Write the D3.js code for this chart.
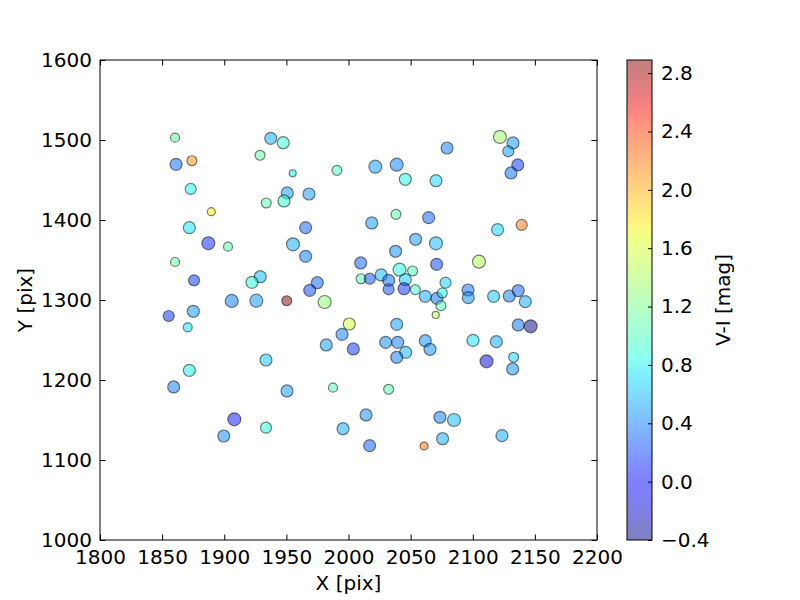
<!DOCTYPE html>
<html>
  <head>
    <meta charset="utf-8">
    <title>V-I scatter</title>
    <script src="https://d3js.org/d3.v7.min.js"></script>
    <style>
      body { margin: 0; background: #fff; }
      text { font-family: "DejaVu Sans", sans-serif; }
    </style>
  </head>
  <body>
    <script>
      // star positions [pix]
      var xs = [1860.4, 1861.2, 1874.0, 1873.0, 1889.6, 1871.9, 1887.2, 1903.0, 1860.4, 1875.7,
                1937.4, 1947.5, 1928.8, 1955.1, 1990.7, 1950.7, 1968.2, 1933.8, 1948.1, 1965.5,
                1955.3, 1965.5, 1929.0, 1922.3, 1974.9, 1968.8, 1906.0, 1925.8, 1950.3, 1980.8,
                2121.9, 2132.4, 2128.6, 2136.2, 2130.8, 2079.3, 2021.6, 2038.8, 2045.7, 2070.4,
                2038.2, 2064.5, 2018.7, 2120.0, 2139.4, 2054.0, 2070.4, 2037.9, 2009.8, 2105.0,
                2070.9, 2041.1, 2051.6, 2010.1, 2017.1, 2026.3, 2032.3, 2045.7, 2032.3, 2044.7,
                2053.8, 2061.8, 2071.2, 2075.5, 2074.4, 2078.1, 2070.2, 2096.2, 2096.4, 2116.8,
                2129.4, 2136.6, 2142.3, 1855.3, 1875.1, 1870.6, 2000.6, 1994.8, 1982.1, 2003.9,
                2038.8, 2029.9, 2039.6, 2046.0, 2038.8, 2061.8, 2065.6, 2100.2, 2119.0, 2136.6,
                2146.6, 2111.1, 2132.9, 2132.1, 1933.6, 1871.9, 1859.3, 1950.5, 1987.5, 2032.3,
                2014.1, 1995.6, 2073.6, 2084.9, 2075.7, 2123.5, 2017.0, 2060.8, 1908.1, 1933.6,
                1899.6];
      var ys = [1502.9, 1469.6, 1474.1, 1438.8, 1410.4, 1390.4, 1370.9, 1366.6, 1347.5, 1324.6,
                1502.1, 1496.6, 1480.9, 1458.4, 1462.1, 1433.8, 1432.5, 1421.3, 1423.8, 1390.4,
                1369.6, 1354.6, 1329.1, 1322.1, 1321.6, 1312.1, 1298.8, 1299.1, 1299.1, 1297.5,
                1503.8, 1496.3, 1485.9, 1468.8, 1458.8, 1490.0, 1466.6, 1469.1, 1450.9, 1449.1,
                1407.1, 1402.9, 1396.3, 1387.9, 1393.8, 1375.9, 1370.9, 1360.9, 1346.3, 1347.9,
                1344.6, 1337.9, 1336.3, 1326.6, 1326.6, 1331.3, 1324.6, 1325.4, 1313.4, 1314.1,
                1312.9, 1304.6, 1302.1, 1308.8, 1292.9, 1321.6, 1281.3, 1312.5, 1302.9, 1304.6,
                1305.0, 1311.6, 1297.9, 1280.0, 1285.9, 1265.9, 1270.0, 1257.1, 1243.8, 1238.8,
                1269.6, 1247.1, 1247.1, 1234.6, 1228.4, 1249.1, 1238.4, 1249.6, 1247.9, 1268.8,
                1267.1, 1223.4, 1228.4, 1213.8, 1225.0, 1212.1, 1191.3, 1186.3, 1190.4, 1188.4,
                1156.3, 1139.1, 1153.4, 1150.0, 1126.6, 1130.4, 1117.9, 1117.5, 1150.9, 1140.4,
                1130.0];
      // colour index V-I [mag]
      var vi = [1.10, 0.35, 2.10, 0.80, 1.75, 0.75, 0.10, 1.05, 1.10, 0.15,
                0.55, 0.90, 1.10, 0.75, 1.00, 0.50, 0.50, 1.05, 0.90, 0.30,
                0.55, 0.40, 0.60, 0.85, 0.30, 0.20, 0.40, 0.50, 2.89, 1.30,
                1.35, 0.50, 0.50, 0.15, 0.35, 0.40, 0.50, 0.40, 0.85, 0.70,
                1.05, 0.30, 0.50, 0.70, 2.20, 0.50, 0.60, 0.45, 0.30, 1.45,
                0.20, 0.85, 1.00, 1.05, 0.25, 0.60, 0.35, 0.65, 0.25, 0.15,
                0.95, 0.55, 0.35, 0.85, 1.05, 0.70, 1.45, 0.35, 0.45, 0.65,
                0.40, 0.30, 0.55, 0.15, 0.50, 0.75, 1.55, 0.40, 0.50, 0.15,
                0.50, 0.45, 0.40, 0.60, 0.40, 0.45, 0.45, 0.75, 0.55, 0.35,
                -0.40, -0.15, 0.70, 0.45, 0.65, 0.80, 0.40, 0.50, 1.05, 1.05,
                0.45, 0.55, 0.40, 0.60, 0.55, 0.55, 0.30, 2.20, 0.05, 0.85,
                0.45];
      // marker areas
      var sizes = [36, 64, 44, 54, 28, 64, 75, 36, 36, 54,
                   64, 64, 44, 22, 44, 64, 64, 44, 64, 64,
                   75, 64, 64, 64, 64, 64, 75, 75, 44, 75,
                   75, 64, 54, 64, 64, 64, 75, 75, 64, 64,
                   44, 64, 64, 64, 54, 64, 75, 64, 64, 75,
                   64, 75, 44, 44, 54, 64, 64, 64, 54, 64,
                   44, 64, 64, 44, 44, 54, 22, 64, 64, 64,
                   64, 64, 64, 54, 64, 36, 64, 64, 64, 64,
                   64, 64, 64, 64, 64, 64, 64, 64, 64, 64,
                   75, 75, 44, 64, 64, 64, 64, 64, 36, 44,
                   64, 64, 64, 75, 64, 64, 64, 28, 75, 54,
                   64];

      var xTicks = [1800, 1850, 1900, 1950, 2000, 2050, 2100, 2150, 2200];
      var yTicks = [1000, 1100, 1200, 1300, 1400, 1500, 1600];
      var cTicks = [-0.4, 0.0, 0.4, 0.8, 1.2, 1.6, 2.0, 2.4, 2.8];

      var width = 800;
      var height = 600;
      var pLeft = 100, pRight = 597, pTop = 60, pBottom = 540;
      var cbLeft = 627, cbWidth = 25;

      var svg = d3.select("body").append("svg").attr("width", width).attr("height", height);

      var xScale = d3.scaleLinear().domain([1800, 2200]).range([pLeft, pRight]);
      var yScale = d3.scaleLinear().domain([1000, 1600]).range([pBottom, pTop]);
      var rScale = d3.scaleSqrt().domain([0, 100]).range([0, 7.5]);

      // matplotlib "jet"
      var jr = d3.scaleLinear().domain([0, 0.35, 0.66, 0.89, 1]).range([0, 0, 1, 1, 0.5]).clamp(true);
      var jg = d3.scaleLinear().domain([0, 0.125, 0.375, 0.64, 0.91, 1]).range([0, 0, 1, 1, 0, 0]).clamp(true);
      var jb = d3.scaleLinear().domain([0, 0.11, 0.34, 0.65, 1]).range([0.5, 1, 1, 0, 0]).clamp(true);
      function jet(t) {
        return d3.rgb(jr(t) * 255, jg(t) * 255, jb(t) * 255).toString();
      }
      var cNorm = d3.scaleLinear().domain(d3.extent(vi)).range([0, 1]);

      var points = xs.map((x, i) => ({x: x, y: ys[i], c: vi[i], s: sizes[i]}));

      // points
      svg.append("g")
        .selectAll("circle")
        .data(points)
        .enter()
        .append("circle")
        .attr("cx", (d) => xScale(d.x))
        .attr("cy", (d) => yScale(d.y))
        .attr("r", (d) => rScale(d.s))
        .attr("fill", (d) => jet(cNorm(d.c)))
        .attr("fill-opacity", 0.5)
        .attr("stroke", "rgba(0,0,0,0.5)")
        .attr("stroke-width", 1.2);

      // axes, ticks inside on all four sides
      var tl = 5.5;
      var fs = "20px";
      svg.append("g")
        .attr("transform", "translate(0," + pBottom + ")")
        .call(d3.axisBottom(xScale).tickValues(xTicks).tickSize(-tl).tickPadding(10).tickFormat(d3.format("d")));
      svg.append("g")
        .attr("transform", "translate(0," + pTop + ")")
        .call(d3.axisTop(xScale).tickValues(xTicks).tickSize(-tl).tickFormat(""));
      svg.append("g")
        .attr("transform", "translate(" + pLeft + ",0)")
        .call(d3.axisLeft(yScale).tickValues(yTicks).tickSize(-tl).tickPadding(8).tickFormat(d3.format("d")));
      svg.append("g")
        .attr("transform", "translate(" + pRight + ",0)")
        .call(d3.axisRight(yScale).tickValues(yTicks).tickSize(-tl).tickFormat(""));

      svg.selectAll(".domain").remove();
      svg.selectAll(".tick line").attr("stroke", "#000");
      svg.selectAll(".tick text").attr("font-size", fs).attr("fill", "#000");

      svg.append("rect")
        .attr("x", pLeft).attr("y", pTop)
        .attr("width", pRight - pLeft).attr("height", pBottom - pTop)
        .attr("fill", "none").attr("stroke", "#000").attr("stroke-width", 1);

      svg.append("text")
        .attr("x", (pLeft + pRight) / 2).attr("y", 590)
        .attr("text-anchor", "middle").attr("font-size", fs)
        .text("X [pix]");
      svg.append("text")
        .attr("transform", "translate(32," + (pTop + pBottom) / 2 + ") rotate(-90)")
        .attr("text-anchor", "middle").attr("font-size", fs)
        .text("Y [pix]");

      // colorbar
      var cScale = d3.scaleLinear().domain(d3.extent(vi)).range([pBottom, pTop]);
      var defs = svg.append("defs");
      var grad = defs.append("linearGradient").attr("id", "jetgrad")
        .attr("x1", 0).attr("y1", 1).attr("x2", 0).attr("y2", 0);
      d3.range(0, 1.0001, 0.02).forEach((t) => {
        grad.append("stop").attr("offset", t).attr("stop-color", jet(t));
      });
      svg.append("rect")
        .attr("x", cbLeft).attr("y", pTop)
        .attr("width", cbWidth).attr("height", pBottom - pTop)
        .attr("fill", "url(#jetgrad)").attr("fill-opacity", 0.5);

      var cAxis = svg.append("g")
        .attr("transform", "translate(" + (cbLeft + cbWidth) + ",0)")
        .call(d3.axisRight(cScale).tickValues(cTicks).tickSize(-4).tickPadding(9).tickFormat(d3.format(".1f")));
      cAxis.select(".domain").remove();
      cAxis.selectAll(".tick line").attr("stroke", "#000");
      cAxis.selectAll(".tick text").attr("font-size", fs).attr("fill", "#000");

      svg.append("rect")
        .attr("x", cbLeft).attr("y", pTop)
        .attr("width", cbWidth).attr("height", pBottom - pTop)
        .attr("fill", "none").attr("stroke", "#000").attr("stroke-width", 1);

      svg.append("text")
        .attr("transform", "translate(730," + (pTop + pBottom) / 2 + ") rotate(-90)")
        .attr("text-anchor", "middle").attr("font-size", fs)
        .text("V-I [mag]");
    </script>
  </body>
</html>
